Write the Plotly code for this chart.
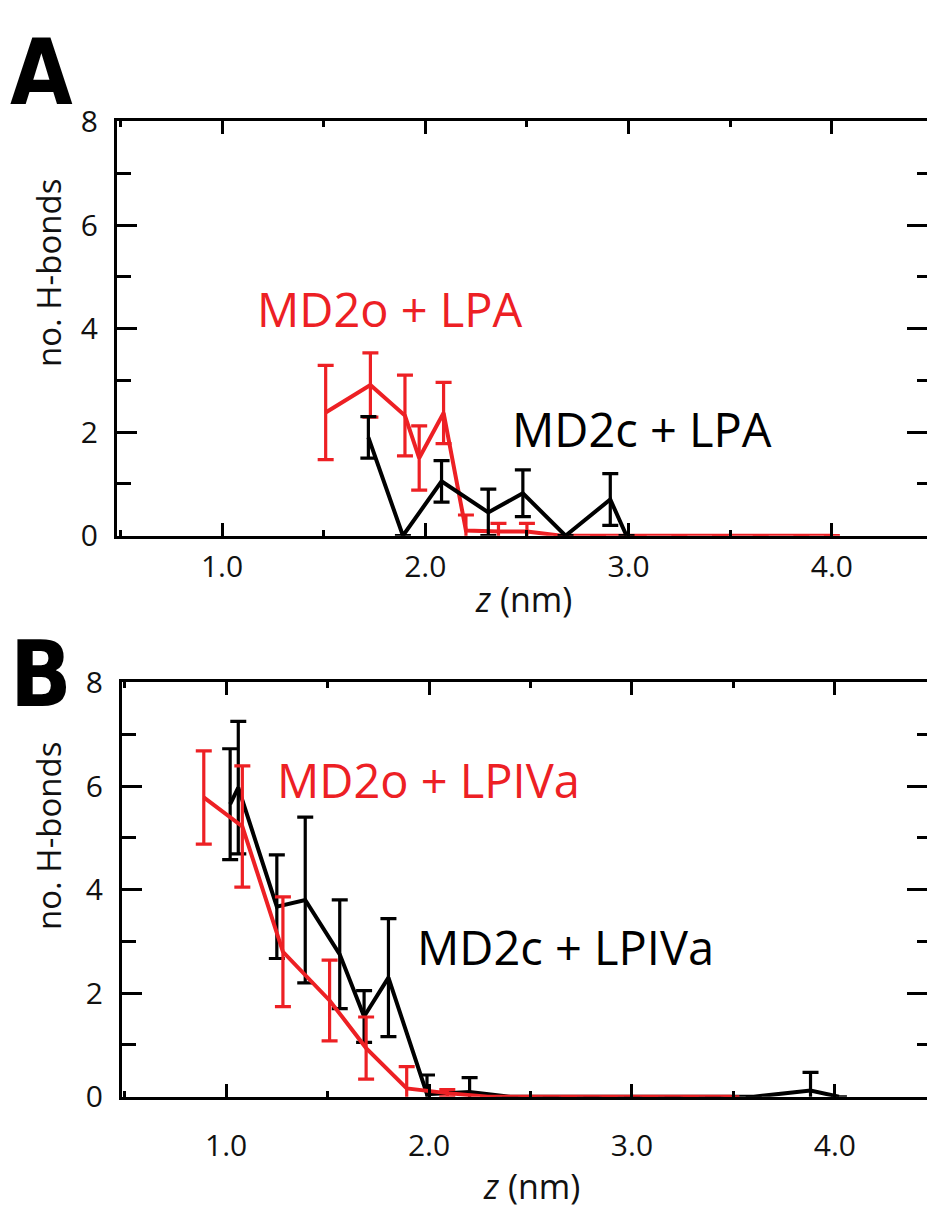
import plotly.graph_objects as go

RED = "#ED2024"
BLACK = "#000000"

# ---------------- Panel A data ----------------
a_red_z = [1.51, 1.73, 1.90, 1.97, 2.09, 2.20, 2.36, 2.50, 2.67, 2.85, 3.05, 3.25, 3.45, 3.65, 3.85, 4.00]
a_red_n = [2.38, 2.91, 2.32, 1.50, 2.37, 0.10, 0.08, 0.08, 0, 0, 0, 0, 0, 0, 0, 0]
a_red_e = [0.91, 0.62, 0.78, 0.62, 0.59, 0.30, 0.16, 0.16, None, None, None, None, None, None, None, None]

a_blk_z = [1.72, 1.89, 2.08, 2.31, 2.48, 2.69, 2.91, 2.99]
a_blk_n = [1.90, 0.0, 1.05, 0.45, 0.82, 0.0, 0.70, 0.0]
a_blk_e = [0.40, None, 0.40, 0.45, 0.45, None, 0.50, None]

# ---------------- Panel B data ----------------
b_red_z = [0.89, 1.08, 1.28, 1.51, 1.69, 1.89, 2.09, 2.29, 2.49, 2.69, 2.89, 3.09, 3.29, 3.49]
b_red_n = [5.78, 5.22, 2.80, 1.86, 0.94, 0.16, 0.07, 0, 0, 0, 0, 0, 0, 0]
b_red_e = [0.90, 1.17, 1.06, 0.78, 0.60, 0.42, 0.07, None, None, None, None, None, None, None]

b_blk_z = [1.02, 1.06, 1.25, 1.39, 1.56, 1.68, 1.80, 1.99, 2.20, 2.40, 2.60, 2.80, 3.00, 3.20, 3.40, 3.60, 3.88, 4.02]
b_blk_n = [5.65, 5.97, 3.67, 3.80, 2.75, 1.55, 2.30, 0.05, 0.09, 0, 0, 0, 0, 0, 0, 0, 0.12, 0]
b_blk_e = [1.07, 1.28, 1.00, 1.60, 1.05, 0.50, 1.14, 0.37, 0.28, None, None, None, None, None, None, None, 0.35, None]

x_tickvals = [1, 2, 3, 4]
x_ticktext = ["1.0", "2.0", "3.0", "4.0"]
y_tickvals = [0, 2, 4, 6, 8]
y_ticktext = ["0", "2", "4", "6", "8"]

W, H = 927, 1222
FONT = "Open Sans"
TICKFONT = dict(family=FONT, size=30, color="#111")


def px_x(p):
    return p / W


def px_y(p):
    return 1 - p / H


def trace(x, y, e, color, xa, ya):
    return go.Scatter(
        x=x, y=y, mode="lines", xaxis=xa, yaxis=ya,
        line=dict(color=color, width=4),
        error_y=dict(type="data", array=e, color=color, thickness=3.2, width=8),
        showlegend=False, hoverinfo="skip",
    )


fig = go.Figure()
# Panel A: red below black
fig.add_trace(trace(a_red_z, a_red_n, a_red_e, RED, "x", "y"))
fig.add_trace(trace(a_blk_z, a_blk_n, a_blk_e, BLACK, "x", "y"))
# Panel B: black below red
fig.add_trace(trace(b_blk_z, b_blk_n, b_blk_e, BLACK, "x2", "y2"))
fig.add_trace(trace(b_red_z, b_red_n, b_red_e, RED, "x2", "y2"))
# empty helpers so the right-hand tick-only axes are drawn
fig.add_trace(go.Scatter(x=[None], y=[None], xaxis="x", yaxis="y3", showlegend=False, hoverinfo="skip"))
fig.add_trace(go.Scatter(x=[None], y=[None], xaxis="x2", yaxis="y4", showlegend=False, hoverinfo="skip"))


def xaxis(dom, rng, anchor, standoff):
    return dict(
        domain=dom, range=rng, anchor=anchor,
        tickvals=x_tickvals, ticktext=x_ticktext,
        ticks="inside", ticklen=13, tickwidth=3, tickcolor=BLACK,
        minor=dict(tickvals=[0.5, 1.5, 2.5, 3.5, 4.5], ticks="inside", ticklen=6, tickwidth=3, tickcolor=BLACK),
        showline=True, linewidth=3, linecolor=BLACK, mirror="ticks",
        showgrid=False, zeroline=False,
        tickfont=TICKFONT,
        ticklabelstandoff=standoff,
    )


def yaxis(dom, anchor):
    return dict(
        domain=dom, range=[0, 8], anchor=anchor,
        tickvals=y_tickvals, ticktext=y_ticktext,
        ticks="inside", ticklen=20, tickwidth=3, tickcolor=BLACK,
        minor=dict(tickvals=[1, 3, 5, 7], ticks="inside", ticklen=14, tickwidth=3, tickcolor=BLACK),
        showline=True, linewidth=3, linecolor=BLACK, mirror=False,
        showgrid=False, zeroline=False,
        tickfont=TICKFONT,
        ticklabelstandoff=10,
    )


def yright(over, anchor):
    return dict(
        overlaying=over, anchor=anchor, side="right", range=[0, 8],
        tickvals=y_tickvals, showticklabels=False,
        ticks="inside", ticklen=20, tickwidth=3, tickcolor=BLACK,
        minor=dict(tickvals=[1, 3, 5, 7], ticks="inside", ticklen=10, tickwidth=3, tickcolor=BLACK),
        showline=False, showgrid=False, zeroline=False,
    )


fig.update_layout(
    width=W, height=H,
    margin=dict(l=0, r=0, t=0, b=0),
    paper_bgcolor="white", plot_bgcolor="white",
    xaxis=xaxis([px_x(117), 1.0], [0.4835, 4.468], "y", 2),
    yaxis=yaxis([px_y(532), px_y(103)], "x"),
    xaxis2=xaxis([px_x(122), 1.0], [0.487, 4.454], "y2", 20),
    yaxis2=yaxis([px_y(1113), px_y(684)], "x2"),
    yaxis3=yright("y", "x"),
    yaxis4=yright("y2", "x2"),
)

ann = []
# panel letters
ann.append(dict(text="<b>A</b>", x=px_x(8), y=px_y(52), xanchor="left", yanchor="middle",
                font=dict(family="DejaVu Sans Condensed", size=90, color=BLACK)))
ann.append(dict(text="<b>B</b>", x=px_x(8), y=px_y(676), xanchor="left", yanchor="middle",
                font=dict(family="DejaVu Sans Condensed", size=90, color=BLACK)))
# y titles
for yc in (260, 843):
    ann.append(dict(text="no. H-bonds", x=px_x(48), y=px_y(yc), textangle=-90,
                    xanchor="center", yanchor="middle",
                    font=dict(family=FONT, size=33, color="#111")))
# x titles
for xc, yc in ((523, 598), (531, 1205)):
    ann.append(dict(text="<i>z</i> (nm)", x=px_x(xc), y=px_y(yc), xanchor="center", yanchor="middle",
                    font=dict(family=FONT, size=34, color="#111")))
# series labels
ann.append(dict(text="MD2o + LPA", x=px_x(255), y=px_y(297), xanchor="left", yanchor="middle",
                font=dict(family=FONT, size=47, color=RED)))
ann.append(dict(text="MD2c + LPA", x=px_x(510), y=px_y(421), xanchor="left", yanchor="middle",
                font=dict(family=FONT, size=47, color=BLACK)))
ann.append(dict(text="MD2o + LPIVa", x=px_x(275), y=px_y(785), xanchor="left", yanchor="middle",
                font=dict(family=FONT, size=47, color=RED)))
ann.append(dict(text="MD2c + LPIVa", x=px_x(415), y=px_y(958), xanchor="left", yanchor="middle",
                font=dict(family=FONT, size=47, color=BLACK)))

for a in ann:
    a.update(xref="paper", yref="paper", showarrow=False)
fig.update_layout(annotations=ann)

fig.write_html("out.html")
